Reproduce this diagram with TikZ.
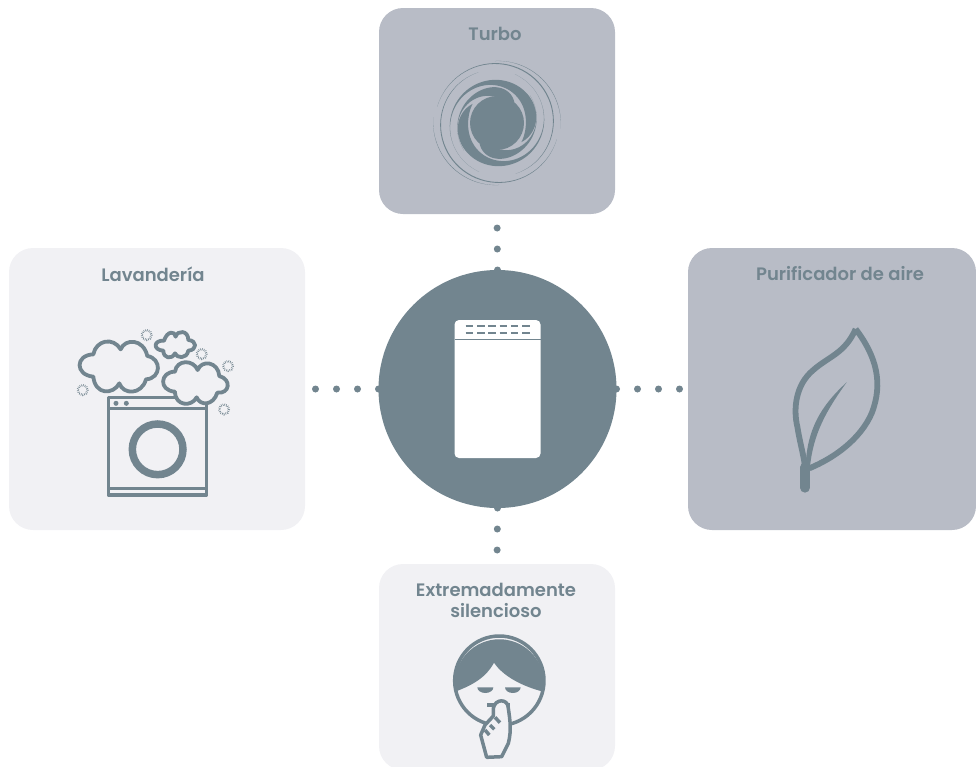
\documentclass[tikz,border=0pt]{standalone}
\usepackage{fontspec}
\setmainfont{Poppins}[BoldFont={Poppins SemiBold}]
\definecolor{ink}{HTML}{72858F}
\definecolor{darkcard}{HTML}{B8BCC6}
\definecolor{lightcard}{HTML}{F1F1F4}
\tikzset{
  card/.style={rectangle,rounded corners=24pt,minimum width=#1,inner sep=0pt,outer sep=0pt},
  title/.style={text=ink,font=\fontsize{18}{21}\selectfont\bfseries,align=center,inner sep=0pt},
  dotline/.style={ink,line width=7pt,line cap=round,dash pattern=on 0pt off 21pt},
  outline/.style={ink,line width=3.5pt,line join=round},
  cloud/.style={ink,line width=3.8pt,fill=lightcard,line join=round},
  sparkle/.style={ink,line width=2.2pt,dash pattern=on .6pt off 1.2pt}
}
\newcommand{\swarm}[5]{% th0 th1 r0 r1 w : thin, evenly tapered spiral
  \fill[ink] plot[domain=0:1,samples=50,variable=\t]
    ({(#3+(#4-#3)*\t+#5/2*sin(180*\t))*cos(#1+(#2-#1)*\t)},{(#3+(#4-#3)*\t+#5/2*sin(180*\t))*sin(#1+(#2-#1)*\t)})
    -- plot[domain=1:0,samples=50,variable=\t]
    ({(#3+(#4-#3)*\t-#5/2*sin(180*\t))*cos(#1+(#2-#1)*\t)},{(#3+(#4-#3)*\t-#5/2*sin(180*\t))*sin(#1+(#2-#1)*\t)})
    -- cycle;}
\newcommand{\blade}[5]{% th0 th1 r0 r1 w : widest near the tip
  \fill[ink] plot[domain=0:1,samples=70,variable=\t]
    ({(#3+(#4-#3)*\t+#5/2*sin(180*\t*\t*\t))*cos(#1+(#2-#1)*\t)},{(#3+(#4-#3)*\t+#5/2*sin(180*\t*\t*\t))*sin(#1+(#2-#1)*\t)})
    -- plot[domain=1:0,samples=70,variable=\t]
    ({(#3+(#4-#3)*\t-#5/2*sin(180*\t*\t*\t))*cos(#1+(#2-#1)*\t)},{(#3+(#4-#3)*\t-#5/2*sin(180*\t*\t*\t))*sin(#1+(#2-#1)*\t)})
    -- cycle;}
\begin{document}
\begin{tikzpicture}[x=1pt,y=-1pt]
\useasboundingbox (0,0) rectangle (976,766);
\clip (0,0) rectangle (976,766);
% cards
\node[card=236pt,minimum height=206pt,fill=darkcard] (turbo) at (497,111) {};
\node[card=296pt,minimum height=282pt,fill=lightcard] (laundry) at (157,389) {};
\node[card=288pt,minimum height=282pt,fill=darkcard] (purifier) at (832,389) {};
\node[card=236pt,minimum height=206pt,fill=lightcard] (silent) at (497,667) {};
% hub
\node[circle,fill=ink,minimum size=238pt,inner sep=0pt,outer sep=0pt] (hub) at (497.5,389) {};
% dotted connectors
\draw[dotline] (hub.north) -- (turbo.south);
\draw[dotline] (hub.west) -- (laundry.east);
\draw[dotline] (hub.east) -- (purifier.west);
\draw[dotline] (hub.south) -- (silent.north);
% titles
\node[title] (t1) at (495,34) {Turbo};
\node[title] (t2) at (153,274) {Lavandería};
\node[title] (t3) at (840,274) {Purificador de aire};
\node[title] (t4) at (496,600) {Extremadamente\\silencioso};
% device
\fill[white,rounded corners=4.5pt] (454.5,320) rectangle (540.5,458);
\draw[ink,line width=1.5pt] (454.5,339.5) -- (540.5,339.5);
\foreach \yy in {326,332.7}
  \foreach \k in {0,...,5}
    \draw[ink,line width=2pt] ({465.7+11.3*\k},\yy) -- ++(7.5,0);
% swirl
\begin{scope}[shift={(497,123)}]
 \fill[ink] (0,0) circle (27);
 \foreach \rr in {0,180}{
 \begin{scope}[rotate=\rr]
  \swarm{-92}{5}{62}{64}{.4}
  \swarm{-165}{70}{62}{54}{1}
  \blade{-250}{38}{52}{31}{11}
  \blade{-220}{-50}{43}{27}{10}
 \end{scope}}
\end{scope}
% washer
\begin{scope}[shift={(60,320)},x=.3333pt,y=-.3333pt]
 \draw[outline] (145,232) rectangle (440,525);
 \draw[outline] (145,266) -- (440,266);
 \draw[outline] (145,506) -- (440,506);
 \fill[ink] (168,250) circle (7.5) (199,250) circle (7.5);
 \draw[ink,line width=7.5pt] (293,388) circle (76);
 \draw[cloud] (100,103) .. controls (108,60) and (160,50) .. (182,88) .. controls (195,55) and (250,55) .. (262,108) .. controls (305,115) and (305,175) .. (258,178) .. controls (245,225) and (190,225) .. (178,190) .. controls (160,225) and (105,225) .. (100,170) .. controls (45,165) and (45,105) .. (100,103) -- cycle;
 \draw[cloud] (312,62) .. controls (322,32) and (345,32) .. (347,50) .. controls (352,30) and (385,30) .. (385,60) .. controls (412,62) and (412,90) .. (385,92) .. controls (380,118) and (350,115) .. (345,100) .. controls (335,120) and (310,115) .. (310,92) .. controls (278,90) and (280,60) .. (312,62) -- cycle;
 \draw[cloud] (345,155) .. controls (350,118) and (400,118) .. (413,150) .. controls (425,118) and (475,125) .. (478,168) .. controls (515,178) and (510,222) .. (472,218) .. controls (460,258) and (420,258) .. (410,232) .. controls (395,262) and (345,258) .. (345,215) .. controls (295,212) and (300,155) .. (345,155) -- cycle;
 \foreach \p in {(260,45),(425,102),(504,138),(492,268),(68,210)}
   \draw[sparkle] \p circle (15);
\end{scope}
% leaf
\begin{scope}[shift={(770,310)},x=.3333pt,y=-.3333pt]
 \draw[ink,line width=5.8pt,line join=round] (257,57) .. controls (225,130) and (175,140) .. (130,180) .. controls (75,225) and (70,300) .. (82,350) .. controls (90,400) and (100,430) .. (105,470)
   (257,57) .. controls (320,140) and (340,220) .. (305,310) .. controls (270,390) and (190,445) .. (118,475);
 \fill[ink] (107,465) .. controls (112,360) and (150,290) .. (230,217) .. controls (170,300) and (130,370) .. (120,470) -- cycle;
 \draw[ink,line width=10pt,line cap=round] (105,472) -- (105,533);
\end{scope}
% person
\begin{scope}[shift={(430,630)},x=.3333pt,y=-.3333pt]
 \draw[outline] (208,152) circle (134);
 \fill[ink] (75,185) .. controls (130,165) and (170,140) .. (192,98) .. controls (220,140) and (280,170) .. (340,185) arc (10:-190:134) -- cycle;
 \fill[ink] (142,172) -- (190,172) arc (0:180:24 and 17) -- cycle;
 \fill[ink] (225,172) -- (272,172) arc (0:180:23.5 and 17) -- cycle;
 \fill[ink] (170,220) rectangle (240,232);
 \draw[outline,fill=lightcard] (190,235) .. controls (195,205) and (235,205) .. (235,235) .. controls (240,270) and (245,300) .. (235,340) -- (215,380) -- (170,382) -- (152,315) -- (165,285) -- (190,258) -- cycle;
 \draw[outline] (195,262) -- (210,278) (180,285) -- (193,298) (165,300) -- (178,315);
\end{scope}
\end{tikzpicture}
\end{document}
